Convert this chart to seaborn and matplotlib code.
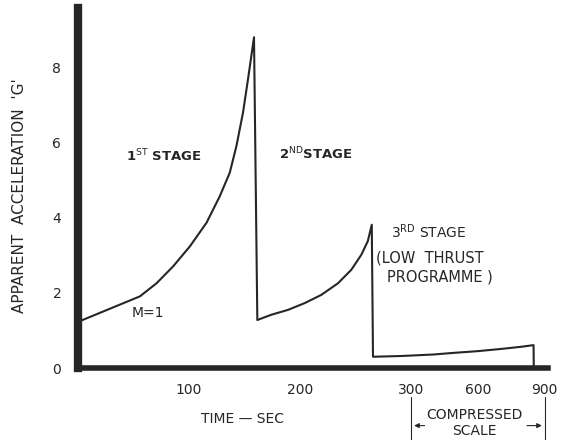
import numpy as np
import pandas as pd
import matplotlib
matplotlib.use("Agg")
import matplotlib.pyplot as plt
import seaborn as sns

# ---- data ----
time_sec = [0, 55.7, 70.7, 85.6, 100.6, 115.6, 127.6, 136.6, 142.6, 148.5,
            153.0, 156.0, 158.4,
            161.4, 174, 189, 204, 219, 234, 246, 255, 260.8, 264.4,
            265.5, 291, 400, 483, 600, 707, 800, 850, 851]
accel_g = [1.23, 1.91, 2.26, 2.71, 3.24, 3.87, 4.58, 5.21, 5.92, 6.81,
           7.70, 8.32, 8.82,
           1.28, 1.42, 1.55, 1.73, 1.95, 2.26, 2.62, 3.02, 3.38, 3.82,
           0.30, 0.32, 0.36, 0.40, 0.45, 0.51, 0.57, 0.61, 0.0]

x_ticks = [100, 200, 300, 400, 500, 600, 700, 800, 900]
x_tick_labels = ["100", "200", "300", "", "", "600", "", "", "900"]
y_ticks = [0, 2, 4, 6, 8]
y_tick_labels = ["0", "2", "4", "6", "8"]

df = pd.DataFrame({"time": time_sec, "g": accel_g})

sns.set_style("white")
plt.rcParams["font.family"] = ["DejaVu Sans"]
ink = "#262626"

fig = plt.figure(figsize=(5.61, 4.40), dpi=100)
ax = fig.add_axes([78 / 561, 1 - 368 / 440, 470 / 561, 360 / 440])

# compressed scale beyond 300 s (1/5)
def fwd(t):
    t = np.asarray(t, dtype=float)
    return np.where(t <= 300, t, 300 + (t - 300) / 5.0)

def inv(u):
    u = np.asarray(u, dtype=float)
    return np.where(u <= 300, u, 300 + (u - 300) * 5.0)

ax.set_xscale("function", functions=(fwd, inv))

sns.lineplot(data=df, x="time", y="g", sort=False, estimator=None,
             color=ink, linewidth=1.5, ax=ax)

ax.set_xlim(0, 915)
ax.set_ylim(0, 9.6)

ax.set_xticks(x_ticks)
ax.set_xticklabels(x_tick_labels)
ax.set_yticks(y_ticks)
ax.set_yticklabels(y_tick_labels)
ax.minorticks_off()

for s in ["top", "right"]:
    ax.spines[s].set_visible(False)
ax.spines["left"].set_linewidth(6)
ax.spines["bottom"].set_linewidth(4)
ax.spines["left"].set_color(ink)
ax.spines["bottom"].set_color(ink)

ax.tick_params(axis="x", direction="out", length=6.5, width=3.5, color=ink,
               labelsize=10, labelcolor=ink, pad=4)
ax.tick_params(axis="y", direction="out", length=7, width=3.5, color=ink,
               labelsize=10, labelcolor=ink, pad=5)

ax.set_xlabel("TIME — SEC", fontsize=10, color=ink)
ax.xaxis.set_label_coords(0.351, -0.122)
ax.set_ylabel("APPARENT  ACCELERATION  'G'", fontsize=11, color=ink)
ax.yaxis.set_label_coords(-0.108, 0.48)

txt = dict(fontsize=9.5, color=ink, fontweight="bold", va="center")
ax.text(43, 5.64, r"1$^{\mathrm{ST}}$ STAGE", ha="left", **txt)
ax.text(181, 5.70, r"2$^{\mathrm{ND}}$STAGE", ha="left", **txt)
ax.text(282, 3.63, r"3$^{\mathrm{RD}}$ STAGE", ha="left", fontsize=10,
        color=ink, va="center")
ax.text(268, 2.93, "(LOW  THRUST", ha="left", fontsize=10.5, color=ink,
        va="center")
ax.text(278, 2.43, "PROGRAMME )", ha="left", fontsize=10.5, color=ink,
        va="center")
ax.text(63, 1.47, "M=1", ha="center", fontsize=10, color=ink, va="center")

# compressed scale annotation
tr = ax.get_xaxis_transform()
for xv in [300, 900]:
    ax.plot([xv, xv], [-0.081, -0.2], transform=tr, color=ink, lw=0.8,
            clip_on=False)
ax.annotate("", xy=(300, -0.16), xytext=(372, -0.16), xycoords=tr,
            textcoords=tr, arrowprops=dict(arrowstyle="-|>", color=ink,
                                           lw=0.8, mutation_scale=7))
ax.annotate("", xy=(900, -0.16), xytext=(808, -0.16), xycoords=tr,
            textcoords=tr, arrowprops=dict(arrowstyle="-|>", color=ink,
                                           lw=0.8, mutation_scale=7))
ax.text(583, -0.13, "COMPRESSED", transform=tr, ha="center", va="center",
        fontsize=10, color=ink)
ax.text(583, -0.174, "SCALE", transform=tr, ha="center", va="center",
        fontsize=10, color=ink)

fig.savefig("out.png", dpi=100)
